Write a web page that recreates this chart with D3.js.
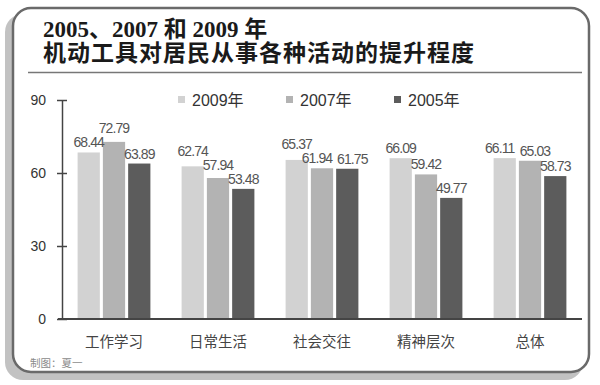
<!DOCTYPE html>
<html><head><meta charset="utf-8">
<script src="https://cdn.jsdelivr.net/npm/d3@7/dist/d3.min.js"></script>
<style>body{margin:0;background:#fff;}svg{display:block;}</style>
</head><body>
<svg id="c" width="600" height="385"></svg>
<script>
const categories = ["工作学习", "日常生活", "社会交往", "精神层次", "总体"];
const seriesNames = ["2009年", "2007年", "2005年"];
const values2009 = [68.44, 62.74, 65.37, 66.09, 66.11];
const values2007 = [72.79, 57.94, 61.94, 59.42, 65.03];
const values2005 = [63.89, 53.48, 61.75, 49.77, 58.73];
const yTicks = [0, 30, 60, 90];
const titleLines = ["2005、2007 和 2009 年", "机动工具对居民从事各种活动的提升程度"];
const credit = "制图：夏一";

const seriesValues = [values2009, values2007, values2005];
const colors = ["#d2d2d2", "#b3b3b3", "#5c5c5c"];

const svg = d3.select("#c");

// frame with shadow
svg.append("rect").attr("x", 5).attr("y", 14).attr("width", 578).attr("height", 366)
  .attr("rx", 18).attr("fill", "#c2c2c2");
svg.append("rect").attr("x", 13).attr("y", 8).attr("width", 576).attr("height", 364)
  .attr("rx", 18).attr("fill", "#fff").attr("stroke", "#6a6a6a").attr("stroke-width", 2.5);

// title
svg.append("text").attr("x", 43).attr("y", 37)
  .attr("font-family", "'Liberation Serif','Noto Sans CJK SC',serif").attr("font-weight", "bold")
  .attr("font-size", 23).attr("fill", "#1a1a1a").text(titleLines[0]);
svg.append("text").attr("x", 43).attr("y", 61)
  .attr("font-family", "'Noto Sans CJK SC',sans-serif").attr("font-weight", "bold")
  .attr("font-size", 23).attr("letter-spacing", 1).attr("fill", "#1a1a1a").text(titleLines[1]);
svg.append("line").attr("x1", 28).attr("x2", 582).attr("y1", 72.5).attr("y2", 72.5)
  .attr("stroke", "#777").attr("stroke-width", 1.5);

// scales
const y = d3.scaleLinear().domain([0, 90]).range([319, 100]);
const x0 = d3.scaleBand().domain(categories).range([62, 582]).paddingInner(0.3).paddingOuter(0.15);
const x1 = d3.scaleBand().domain(seriesNames).range([0, x0.bandwidth()]).paddingInner(0.12);

// y axis
const yAxis = d3.axisLeft(y).tickValues(yTicks).tickSizeInner(5).tickSizeOuter(0).tickPadding(11);
const ya = svg.append("g").attr("transform", "translate(62,0)").call(yAxis);
ya.select(".domain").attr("stroke", "#444").attr("stroke-width", 1.5);
ya.selectAll(".tick line").attr("stroke", "#444").attr("stroke-width", 1.5).attr("x2", 5).attr("x1", -5);
ya.selectAll(".tick text").attr("font-family", "'Liberation Sans',Arial,sans-serif")
  .attr("font-size", 14).attr("fill", "#333");

// bars + label collision resolution within each group
const SEP = 14;
const data = categories.map((c, i) => {
  const vals = seriesNames.map((s, j) => ({s, v: seriesValues[j][i], j, dx: 0, side: false}));
  vals.forEach(d => { d.ly = y(d.v) - 5; });
  for (let k = 0; k < vals.length - 1; k++) {
    const a = vals[k], b = vals[k + 1];
    if (Math.abs(a.ly - b.ly) < 3) { a.dx -= 5; b.dx += 5; a.side = b.side = true; }
  }
  for (let pass = 0; pass < 4; pass++) {
    for (let k = vals.length - 2; k >= 0; k--) {
      const a = vals[k], b = vals[k + 1];
      if (a.side && b.side) continue;
      const diff = Math.abs(a.ly - b.ly);
      if (diff < SEP) {
        if (a.ly < b.ly) a.ly = b.ly - SEP; else b.ly = a.ly - SEP;
      }
    }
  }
  return {c, vals};
});
const g = svg.append("g").selectAll("g").data(data).join("g")
  .attr("transform", d => `translate(${x0(d.c)},0)`);
g.selectAll("rect").data(d => d.vals).join("rect")
  .attr("x", d => x1(d.s)).attr("width", x1.bandwidth())
  .attr("y", d => y(d.v)).attr("height", d => y(0) - y(d.v))
  .attr("fill", d => colors[d.j]);
g.selectAll("text").data(d => d.vals).join("text")
  .attr("x", d => x1(d.s) + x1.bandwidth() / 2 + d.dx).attr("y", d => d.ly)
  .attr("text-anchor", "middle")
  .attr("font-family", "'Liberation Sans',Arial,sans-serif").attr("font-size", 14)
  .attr("letter-spacing", -0.9).attr("fill", "#555").text(d => d.v.toFixed(2));

// x baseline
const xAxis = d3.axisBottom(x0).tickSize(0).tickPadding(18);
const xa = svg.append("g").attr("transform", "translate(0,319)").call(xAxis);
xa.select(".domain").attr("d", "M-4,0H520").attr("transform", "translate(62,0)")
  .attr("stroke", "#444").attr("stroke-width", 2);
xa.selectAll(".tick text").attr("font-family", "'Noto Sans CJK SC',sans-serif")
  .attr("font-size", 14.5).attr("fill", "#444");

// legend
const legend = svg.append("g").selectAll("g").data(seriesNames).join("g")
  .attr("transform", (d, i) => `translate(${178 + i * 108},100)`);
legend.append("rect").attr("x", 0).attr("y", -4).attr("width", 7).attr("height", 7)
  .attr("fill", (d, i) => colors[i]);
legend.append("text").attr("x", 14).attr("y", 6)
  .attr("font-family", "'Liberation Sans','Noto Sans CJK SC',sans-serif").attr("font-size", 16)
  .attr("fill", "#333").text(d => d);

// credit
svg.append("text").attr("x", 30).attr("y", 367)
  .attr("font-family", "'Noto Sans CJK SC',sans-serif").attr("font-size", 10.5)
  .attr("fill", "#8a8a8a").text(credit);
</script>
</body></html>
